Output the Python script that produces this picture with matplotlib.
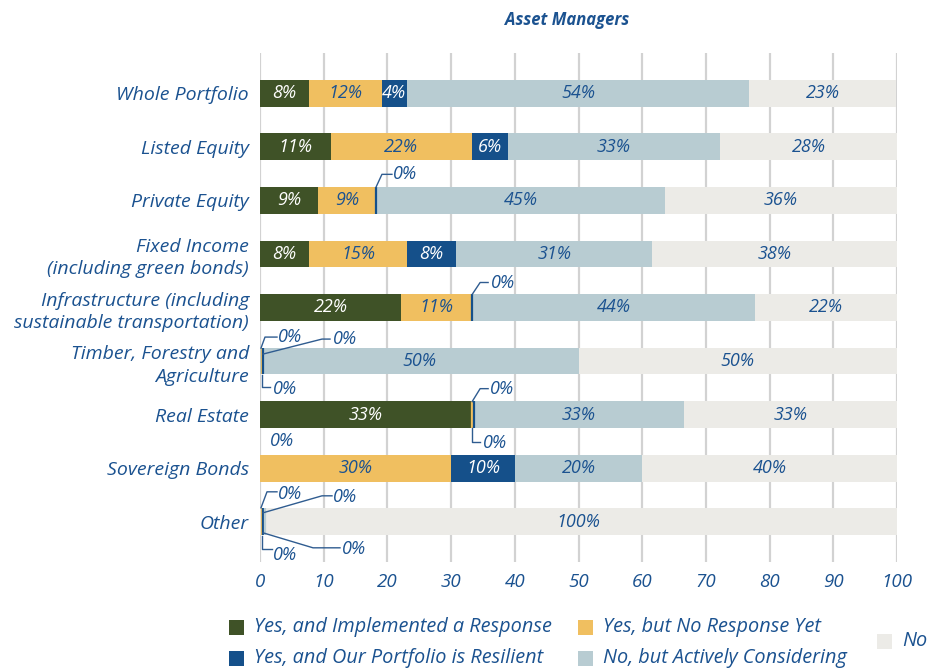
import matplotlib
matplotlib.use('Agg')
import matplotlib.pyplot as plt
from matplotlib.transforms import IdentityTransform
from matplotlib.patches import Rectangle

# ---------------- data ----------------
categories = ['Whole Portfolio', 'Listed Equity', 'Private Equity',
              'Fixed Income\n(including green bonds)',
              'Infrastructure (including\nsustainable transportation)',
              'Timber, Forestry and\nAgriculture', 'Real Estate',
              'Sovereign Bonds', 'Other']
implemented = [7.7, 11.1, 9.1, 7.7, 22.2, 0, 33.3, 0, 0]
no_response = [11.5, 22.2, 9.1, 15.4, 11.1, 0, 0, 30, 0]
resilient = [3.8, 5.6, 0, 7.7, 0, 0, 0, 10, 0]
considering = [53.8, 33.3, 45.4, 30.8, 44.4, 50, 33.3, 20, 0]
no_answer = [23.1, 27.8, 36.4, 38.4, 22.3, 50, 33.4, 40, 100]
series_names = ['Yes, and Implemented a Response', 'Yes, but No Response Yet',
                'Yes, and Our Portfolio is Resilient', 'No, but Actively Considering', 'No']
x_ticks = [0, 10, 20, 30, 40, 50, 60, 70, 80, 90, 100]
title = 'Asset Managers'

# ---------------- style ----------------
FONT = 'Open Sans'
TXT = '#1B5290'
colors = ['#3F5227', '#F0BF60', '#15508A', '#B8CCD2', '#ECEBE7']
label_colors = ['white', TXT, 'white', TXT, TXT]
series = [implemented, no_response, resilient, considering, no_answer]
FS = 13

W, H = 928, 670
fig = plt.figure(figsize=(W / 100, H / 100), dpi=100)
ax = fig.add_axes([260 / W, 1 - 562 / H, 637 / W, 509 / H])
ax.set_xlim(0, 100)
ax.set_ylim(len(categories) - 0.25, -0.75)

ax.set_axisbelow(True)
for x in x_ticks:
    ax.axvline(x, color='#D2D2D2', lw=1.6, zorder=0)
for s in ax.spines.values():
    s.set_visible(False)

bar_h = 0.5
ys = list(range(len(categories)))
for yi in ys:
    cum = 0.0
    zcount = 0
    for si, ser in enumerate(series):
        v = ser[yi]
        if v > 0:
            ax.barh(yi, v, left=cum, height=bar_h, color=colors[si], lw=0, zorder=2)
            ax.text(cum + v / 2, yi, f'{round(v)}%', ha='center', va='center',
                    color=label_colors[si], fontsize=FS, style='italic',
                    family=FONT, zorder=4)
            cum += v
            zcount = 0
        else:
            xz = cum + 0.25 * zcount
            if si > 0 and xz > 0.1:
                ax.vlines(xz, yi - bar_h / 2, yi + bar_h / 2, color=colors[si], lw=1.6, zorder=3)
            elif si > 0:
                ax.vlines(xz + 0.25, yi - bar_h / 2, yi + bar_h / 2, color=colors[si], lw=1.6, zorder=3)
            zcount += 1

ax.set_xticks(x_ticks)
ax.set_xticklabels([str(t) for t in x_ticks], fontsize=13.5, style='italic', family=FONT, color=TXT)
ax.set_yticks(ys)
ax.set_yticklabels(categories, fontsize=14, style='italic', family=FONT, color=TXT,
                   linespacing=1.32)
ax.tick_params(axis='both', length=0)
ax.tick_params(axis='x', pad=8)
ax.tick_params(axis='y', pad=8)

# zero-value labels with leader lines (offsets in pixels, y downward)
zero_labels = [
    (2, 2, [(0, -13), (6, -26), (16, -26)], (17, -26)),
    (4, 2, [(0, -13), (8, -25), (16, -25)], (19, -25)),
    (5, 0, [(1, -13), (5, -24), (17, -24)], (18, -24)),
    (5, 1, [(3, -7), (62, -22), (70, -22)], (73, -22)),
    (5, 2, [(2, 14), (2, 26), (10, 26)], (13, 28)),
    (6, 1, [(0, -13), (8, -26), (16, -26)], (18, -26)),
    (6, 2, [(0, 13), (0, 27), (8, 27)], (11, 28)),
    (7, 0, [], (10, -27)),
    (8, 0, [(1, -14), (7, -30), (17, -30)], (18, -28)),
    (8, 1, [(3, -9), (62, -26), (72, -26)], (73, -25)),
    (8, 2, [(2, 14), (2, 27), (12, 27)], (13, 33)),
    (8, 3, [(3, 11), (53, 26), (80, 26)], (82, 27)),
]
ident = IdentityTransform()
for yi, si, path, (tx, ty) in zero_labels:
    xstart = sum(series[k][yi] for k in range(si))
    bx, by = ax.transData.transform((xstart, yi))
    if path:
        px = [bx + dx for dx, dy in path]
        py = [by - dy for dx, dy in path]
        ax.plot(px, py, color='#2F5C90', lw=1.0, transform=ident, clip_on=False, zorder=5)
    ax.text(bx + tx, by - ty, f'{round(series[si][yi])}%', transform=ident,
            ha='left', va='center', color=TXT, fontsize=FS, style='italic',
            family=FONT, zorder=5)

# title
fig.text(567 / W, 1 - 20 / H, title, ha='center', va='center', fontsize=12,
         style='italic', weight='bold', family=FONT, color=TXT)

# legend (manual layout)
leg_items = [
    (0, 229, 627), (1, 578, 627), (2, 229, 658), (3, 578, 658), (4, 877, 641),
]
sq = 15
for si, lx, ly in leg_items:
    fig.patches.append(Rectangle((lx / W, 1 - (ly + sq / 2) / H), sq / W, sq / H,
                                 transform=fig.transFigure, color=colors[si], lw=0))
    fig.text((lx + sq + 10) / W, 1 - ly / H, series_names[si], ha='left', va='center',
             fontsize=14.3, style='italic', family=FONT, color=TXT)

fig.savefig('out.png', dpi=100)
